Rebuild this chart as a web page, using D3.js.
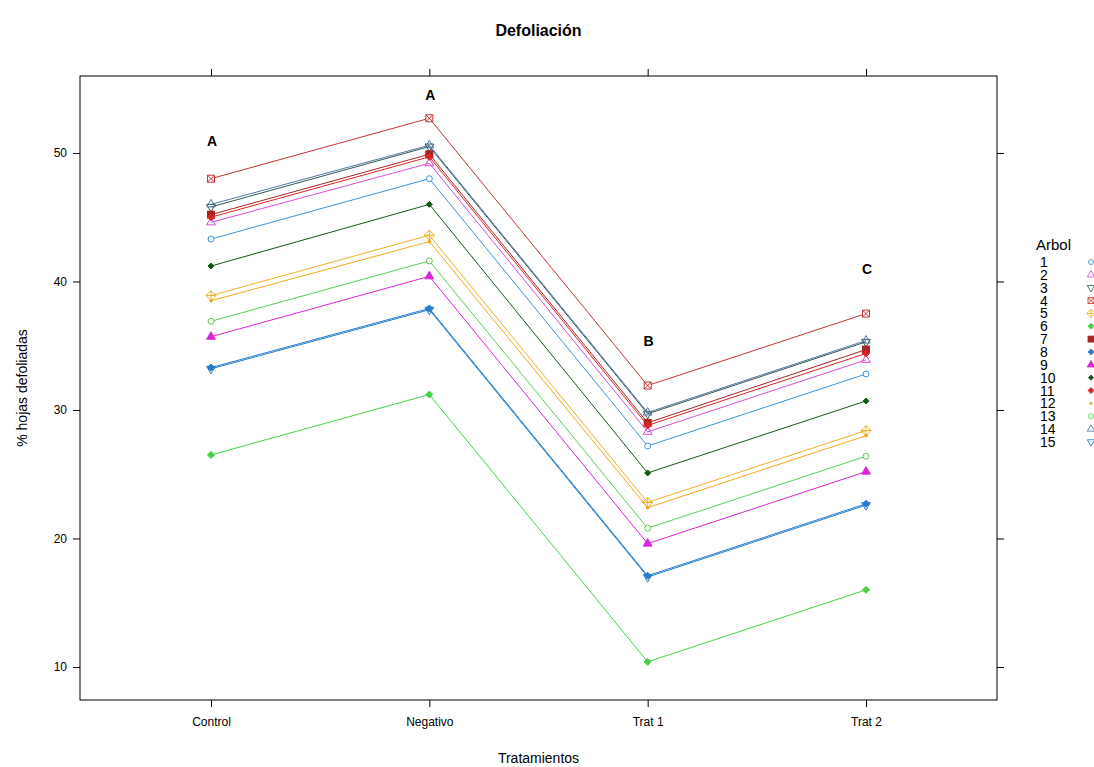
<!DOCTYPE html>
<html>
<head>
<meta charset="utf-8">
<script src="https://cdn.jsdelivr.net/npm/d3@7"></script>
<style>
  body { margin: 0; background: #fff; }
  text { font-family: "Liberation Sans", Arial, sans-serif; fill: #000; }
</style>
</head>
<body>
<script>
// Defoliacion por tratamiento, una linea por arbol

var categorias = ["Control", "Negativo", "Trat 1", "Trat 2"];
var arboles = ["1","2","3","4","5","6","7","8","9","10","11","12","13","14","15"];

// valores por tratamiento (un valor por arbol, en orden 1..15)
var control  = [43.3, 44.6, 45.8, 48.0, 38.9, 26.5, 45.2, 33.3, 35.7, 41.2, 45.0, 38.5, 36.9, 46.0, 33.2];
var negativo = [48.0, 49.2, 50.5, 52.7, 43.6, 31.2, 49.9, 37.9, 40.4, 46.0, 49.7, 43.1, 41.6, 50.6, 37.8];
var trat1    = [27.2, 28.3, 29.7, 31.9, 22.8, 10.4, 29.0, 17.1, 19.6, 25.1, 28.8, 22.4, 20.8, 29.8, 17.0];
var trat2    = [32.8, 33.9, 35.3, 37.5, 28.4, 16.0, 34.7, 22.7, 25.2, 30.7, 34.4, 28.0, 26.4, 35.4, 22.6];

var letras = ["A", "A", "B", "C"];
var letraY = [50.9, 54.5, 35.4, 41.0];

var yTicks = [10, 20, 30, 40, 50];

// estilo de cada arbol
var colores = ["#3a95d6", "#d84ad8", "#2f5b4a", "#c43434", "#eeb024", "#44d244", "#a82424",
               "#2a7bd0", "#dc22dc", "#125a12", "#dd2424", "#f0a818", "#55d055", "#4f78a8", "#1f7fc4"];
var simbolos = ["circle", "triangle", "triangleDown", "squareX", "diamondPlus", "diamond", "square",
                "diamond", "triangleFill", "diamondSmall", "diamond", "dot", "circle", "triangle", "triangleDown"];

var W = 1094, H = 767;
var mLeft = 80, mRight = 997, mTop = 76, mBottom = 700;

var svg = d3.select("body").append("svg")
    .attr("width", W)
    .attr("height", H);

var x = d3.scalePoint()
    .domain(categorias)
    .range([mLeft, mRight])
    .padding(0.6);

var y = d3.scaleLinear()
    .domain([7.43, 55.99])
    .range([mBottom, mTop]);

var series = arboles.map(function(a, i) {
  return {
    arbol: a,
    color: colores[i],
    simbolo: simbolos[i],
    valores: [control[i], negativo[i], trat1[i], trat2[i]]
  };
});

// marco
svg.append("rect")
    .attr("x", mLeft).attr("y", mTop)
    .attr("width", mRight - mLeft).attr("height", mBottom - mTop)
    .attr("fill", "none").attr("stroke", "#000").attr("stroke-width", 1);

// ejes
svg.append("g").attr("transform", "translate(" + mLeft + ",0)")
    .call(d3.axisLeft(y).tickValues(yTicks).tickSize(7).tickPadding(6))
    .call(function(g) { g.select(".domain").remove(); })
    .selectAll("text").style("font-size", "12px").style("font-family", "Liberation Sans, Arial, sans-serif");

svg.append("g").attr("transform", "translate(" + mRight + ",0)")
    .call(d3.axisRight(y).tickValues(yTicks).tickSize(7).tickFormat(""))
    .call(function(g) { g.select(".domain").remove(); });

svg.append("g").attr("transform", "translate(0," + mBottom + ")")
    .call(d3.axisBottom(x).tickSize(7).tickPadding(10))
    .call(function(g) { g.select(".domain").remove(); })
    .selectAll("text").style("font-size", "12px").style("font-family", "Liberation Sans, Arial, sans-serif");

svg.append("g").attr("transform", "translate(0," + mTop + ")")
    .call(d3.axisTop(x).tickSize(7).tickFormat(""))
    .call(function(g) { g.select(".domain").remove(); });

// titulos
svg.append("text")
    .attr("x", (mLeft + mRight) / 2).attr("y", 36)
    .attr("text-anchor", "middle")
    .style("font-size", "16px").style("font-weight", "bold")
    .text("Defoliación");

svg.append("text")
    .attr("x", (mLeft + mRight) / 2).attr("y", 763)
    .attr("text-anchor", "middle")
    .style("font-size", "14px")
    .text("Tratamientos");

svg.append("text")
    .attr("transform", "translate(27," + ((mTop + mBottom) / 2) + ") rotate(-90)")
    .attr("text-anchor", "middle")
    .style("font-size", "14px")
    .text("% hojas defoliadas");

// simbolos
function marca(g, tipo, color) {
  var r;
  if (tipo === "circle") {
    g.append("circle").attr("r", 3).attr("fill", "#fff").attr("stroke", color);
  } else if (tipo === "triangle" || tipo === "triangleFill") {
    r = 5;
    g.append("path")
      .attr("d", "M0," + (-r) + "L" + (r * 0.87) + "," + (r * 0.5) + "L" + (-r * 0.87) + "," + (r * 0.5) + "Z")
      .attr("fill", tipo === "triangleFill" ? color : "none").attr("stroke", color);
  } else if (tipo === "triangleDown") {
    r = 5;
    g.append("path")
      .attr("d", "M0," + r + "L" + (r * 0.87) + "," + (-r * 0.5) + "L" + (-r * 0.87) + "," + (-r * 0.5) + "Z")
      .attr("fill", "none").attr("stroke", color);
  } else if (tipo === "squareX") {
    r = 3.5;
    g.append("path")
      .attr("d", "M" + (-r) + "," + (-r) + "h" + (2 * r) + "v" + (2 * r) + "h" + (-2 * r) + "Z" +
                 "M" + (-r) + "," + (-r) + "L" + r + "," + r + "M" + r + "," + (-r) + "L" + (-r) + "," + r)
      .attr("fill", "#fff").attr("stroke", color);
  } else if (tipo === "diamondPlus") {
    r = 5;
    g.append("path")
      .attr("d", "M0," + (-r) + "L" + r + ",0L0," + r + "L" + (-r) + ",0Z" +
                 "M0," + (-r) + "V" + r + "M" + (-r) + ",0H" + r)
      .attr("fill", "none").attr("stroke", color);
  } else if (tipo === "diamond" || tipo === "diamondSmall") {
    r = tipo === "diamond" ? 3.5 : 3;
    g.append("path")
      .attr("d", "M0," + (-r) + "L" + r + ",0L0," + r + "L" + (-r) + ",0Z")
      .attr("fill", color).attr("stroke", color);
  } else if (tipo === "square") {
    r = 3.5;
    g.append("rect").attr("x", -r).attr("y", -r).attr("width", 2 * r).attr("height", 2 * r)
      .attr("fill", color).attr("stroke", color);
  } else if (tipo === "dot") {
    g.append("circle").attr("r", 1.8).attr("fill", color);
  }
}

var linea = d3.line()
    .x(function(d, i) { return x(categorias[i]); })
    .y(function(d) { return y(d); });

var grupos = svg.selectAll("g.arbol")
    .data(series)
    .enter().append("g")
    .attr("class", "arbol");

grupos.append("path")
    .attr("d", function(d) { return linea(d.valores); })
    .attr("fill", "none")
    .attr("stroke", function(d) { return d.color; })
    .attr("stroke-width", 1);

grupos.each(function(s) {
  var g = d3.select(this);
  s.valores.forEach(function(v, i) {
    var m = g.append("g").attr("transform", "translate(" + x(categorias[i]) + "," + y(v) + ")");
    marca(m, s.simbolo, s.color);
  });
});

// letras de significancia
svg.selectAll("text.letra")
    .data(letras)
    .enter().append("text")
    .attr("class", "letra")
    .attr("x", function(d, i) { return x(categorias[i]) + 1; })
    .attr("y", function(d, i) { return y(letraY[i]) + 5; })
    .attr("text-anchor", "middle")
    .style("font-size", "14px").style("font-weight", "bold")
    .text(function(d) { return d; });

// leyenda
var leyenda = svg.append("g").attr("transform", "translate(1036,0)");
leyenda.append("text")
    .attr("x", 0).attr("y", 250)
    .style("font-size", "15px")
    .text("Arbol");

var filas = leyenda.selectAll("g.fila")
    .data(series)
    .enter().append("g")
    .attr("class", "fila")
    .attr("transform", function(d, i) { return "translate(0," + (262 + i * 12.85) + ")"; });

filas.append("text")
    .attr("x", 4).attr("y", 5)
    .style("font-size", "14px")
    .text(function(d) { return d.arbol; });

filas.each(function(s) {
  var m = d3.select(this).append("g").attr("transform", "translate(55,0) scale(0.85)");
  marca(m, s.simbolo, s.color);
});
</script>
</body>
</html>
